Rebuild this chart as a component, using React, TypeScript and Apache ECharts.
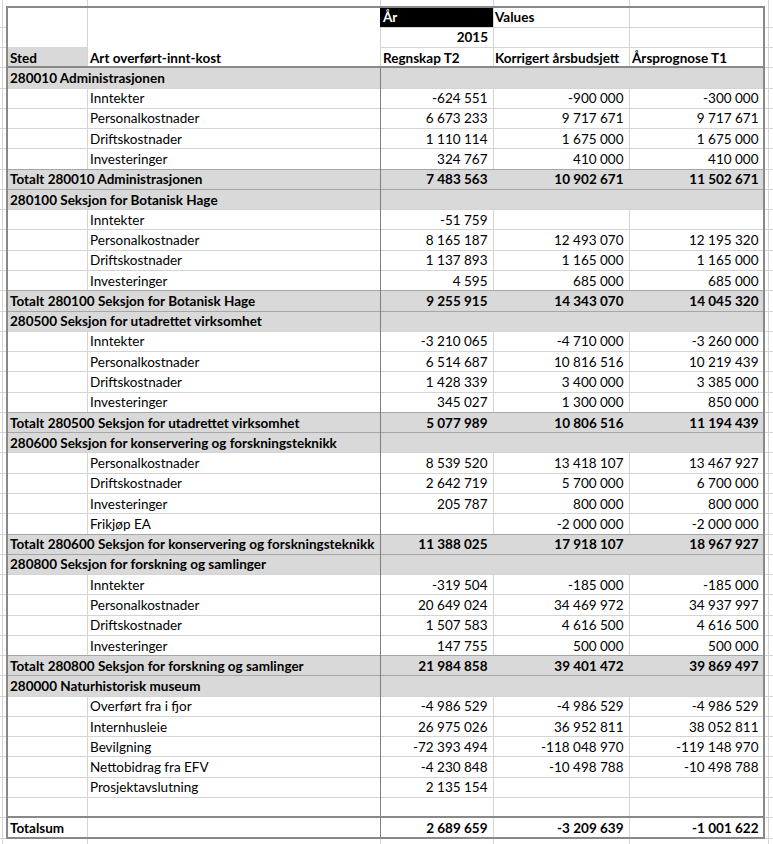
import React, { useEffect, useRef } from "react";
import * as echarts from "echarts";

const yearHeader = "År";
const valuesHeader = "Values";
const yearValue = "2015";
const fieldHeaders = ["Sted", "Art overført-innt-kost"];
const measureHeaders = ["Regnskap T2", "Korrigert årsbudsjett", "Årsprognose T1"];

const rowKinds = [
  "group", "item", "item", "item", "item", "total",
  "group", "item", "item", "item", "item", "total",
  "group", "item", "item", "item", "item", "total",
  "group", "item", "item", "item", "item", "total",
  "group", "item", "item", "item", "item", "total",
  "group", "item", "item", "item", "item", "item",
  "blank", "grand",
];

const rowLabels = [
  "280010 Administrasjonen", "Inntekter", "Personalkostnader", "Driftskostnader", "Investeringer", "Totalt 280010 Administrasjonen",
  "280100 Seksjon for Botanisk Hage", "Inntekter", "Personalkostnader", "Driftskostnader", "Investeringer", "Totalt 280100 Seksjon for Botanisk Hage",
  "280500 Seksjon for utadrettet virksomhet", "Inntekter", "Personalkostnader", "Driftskostnader", "Investeringer", "Totalt 280500 Seksjon for utadrettet virksomhet",
  "280600 Seksjon for konservering og forskningsteknikk", "Personalkostnader", "Driftskostnader", "Investeringer", "Frikjøp EA", "Totalt 280600 Seksjon for konservering og forskningsteknikk",
  "280800 Seksjon for forskning og samlinger", "Inntekter", "Personalkostnader", "Driftskostnader", "Investeringer", "Totalt 280800 Seksjon for forskning og samlinger",
  "280000 Naturhistorisk museum", "Overført fra i fjor", "Internhusleie", "Bevilgning", "Nettobidrag fra EFV", "Prosjektavslutning",
  "", "Totalsum",
];

const regnskapT2 = [
  null, -624551, 6673233, 1110114, 324767, 7483563,
  null, -51759, 8165187, 1137893, 4595, 9255915,
  null, -3210065, 6514687, 1428339, 345027, 5077989,
  null, 8539520, 2642719, 205787, null, 11388025,
  null, -319504, 20649024, 1507583, 147755, 21984858,
  null, -4986529, 26975026, -72393494, -4230848, 2135154,
  null, 2689659,
];

const korrigertBudsjett = [
  null, -900000, 9717671, 1675000, 410000, 10902671,
  null, null, 12493070, 1165000, 685000, 14343070,
  null, -4710000, 10816516, 3400000, 1300000, 10806516,
  null, 13418107, 5700000, 800000, -2000000, 17918107,
  null, -185000, 34469972, 4616500, 500000, 39401472,
  null, -4986529, 36952811, -118048970, -10498788, null,
  null, -3209639,
];

const arsprognoseT1 = [
  null, -300000, 9717671, 1675000, 410000, 11502671,
  null, null, 12195320, 1165000, 685000, 14045320,
  null, -3260000, 10219439, 3385000, 850000, 11194439,
  null, 13467927, 6700000, 800000, -2000000, 18967927,
  null, -185000, 34937997, 4616500, 500000, 39869497,
  null, -4986529, 38052811, -119148970, -10498788, null,
  null, -1001622,
];

const HEADER_ROWS = 3;
const TOTAL_ROWS = HEADER_ROWS + rowKinds.length;
const COL_EDGES = [7, 87, 380, 493, 629, 764];
const OUTER_GRID_X = [2, 768];
const W = 773;
const H = 844;
const FONT = "Lato, 'Open Sans', sans-serif";
const FONT_SIZE = 13.5;
const GRID_COLOR = "#d4d4d4";
const FILL_GRAY = "#d9d9d9";
const BORDER = "#898989";
const TOTAL_LINE = "#a6a6a6";

function fmt(v: number | null): string {
  if (v === null || v === undefined) return "";
  const s = Math.abs(v).toString().replace(/\B(?=(\d{3})+(?!\d))/g, " ");
  return (v < 0 ? "-" : "") + s;
}

export default function App() {
  const ref = useRef<HTMLDivElement>(null);

  useEffect(() => {
    document.body.style.margin = "0";
    document.body.style.background = "#fff";
    if (!ref.current) return;
    const chart = echarts.init(ref.current, undefined, { renderer: "svg" });

    const renderItem = (params: any, api: any) => {
      const r = api.value(1) as number;
      const yTop = api.coord([0, r])[1];
      const yBot = api.coord([0, r + 1])[1];
      const px = (v: number) => api.coord([v, r])[0];
      const t = Math.round(yTop);
      const b = Math.round(yBot);
      const yMid = (yTop + yBot) / 2 + 0.5;
      const kids: any[] = [];
      const line = (x1: number, y1: number, x2: number, y2: number, color: string, w: number, z2: number) =>
        kids.push({ type: "line", shape: { x1, y1, x2, y2 }, style: { stroke: color, lineWidth: w }, z2 });
      const rect = (x1: number, y1: number, x2: number, y2: number, fill: string, z2: number) =>
        kids.push({ type: "rect", shape: { x: x1, y: y1, width: x2 - x1, height: y2 - y1 }, style: { fill }, z2 });
      const text = (s: string, x: number, align: string, bold: boolean, color = "#000") =>
        kids.push({
          type: "text",
          x,
          y: yMid,
          style: {
            text: s,
            fill: color,
            fontFamily: FONT,
            fontSize: FONT_SIZE,
            fontWeight: bold ? "bold" : "normal",
            align,
            verticalAlign: "middle",
          },
          z2: 10,
        });

      const left = px(COL_EDGES[0]);
      const right = px(COL_EDGES[5]);

      // gridlines (vertical)
      const yA = r === 0 ? 0 : t;
      const yB = r === TOTAL_ROWS - 1 ? H : b;
      [OUTER_GRID_X[0], COL_EDGES[1], COL_EDGES[2], COL_EDGES[3], COL_EDGES[4], OUTER_GRID_X[1]].forEach((x) => {
        line(Math.round(px(x)) + 0.5, yA, Math.round(px(x)) + 0.5, yB, GRID_COLOR, 1, 1);
      });
      // gridlines (horizontal, bottom of row)
      if (r < 2) {
        line(0, b + 0.5, left, b + 0.5, GRID_COLOR, 1, 1);
        line(px(COL_EDGES[2]), b + 0.5, px(W), b + 0.5, GRID_COLOR, 1, 1);
      } else {
        line(0, b + 0.5, px(W), b + 0.5, GRID_COLOR, 1, 1);
      }

      if (r < HEADER_ROWS) {
        if (r === 0) {
          rect(px(COL_EDGES[2]), t, px(COL_EDGES[3]), b, "#000", 2);
          text(yearHeader, px(COL_EDGES[2]) + 3, "left", true, "#fff");
          text(valuesHeader, px(COL_EDGES[3]) + 2, "left", true);
          const tableBottom = Math.round(api.coord([0, TOTAL_ROWS])[1]);
          kids.push({
            type: "rect",
            shape: { x: left, y: t, width: right - left, height: tableBottom - t },
            style: { fill: "none", stroke: BORDER, lineWidth: 2 },
            z2: 5,
          });
        } else if (r === 1) {
          text(yearValue, px(COL_EDGES[3]) - 5, "right", true);
        } else {
          rect(left, t, px(COL_EDGES[1]), b, FILL_GRAY, 2);
          text(fieldHeaders[0], left + 3, "left", true);
          text(fieldHeaders[1], px(COL_EDGES[1]) + 3, "left", true);
          text(measureHeaders[0], px(COL_EDGES[2]) + 3, "left", true);
          text(measureHeaders[1], px(COL_EDGES[3]) + 2, "left", true);
          text(measureHeaders[2], px(COL_EDGES[4]) + 3, "left", true);
          line(left, b, right, b, BORDER, 2, 5);
        }
        return { type: "group", children: kids };
      }

      const i = r - HEADER_ROWS;
      const kind = rowKinds[i];
      const label = rowLabels[i];
      const bold = kind !== "item";
      if (kind === "group" || kind === "total") {
        rect(left, t, right, b, FILL_GRAY, 2);
      }
      if (kind === "total") {
        line(left, t + 0.5, right, t + 0.5, TOTAL_LINE, 1, 4);
        line(left, b + 0.5, right, b + 0.5, TOTAL_LINE, 1, 4);
      }
      if (kind === "grand") {
        line(left, t, right, t, BORDER, 2, 5);
      }
      line(Math.round(px(COL_EDGES[2])) + 0.5, t, Math.round(px(COL_EDGES[2])) + 0.5, b, "#7f7f7f", 1, 4);

      if (kind === "item") {
        text(label, px(COL_EDGES[1]) + 3, "left", false);
      } else if (label) {
        text(label, left + 3, "left", true);
      }
      const vals = [regnskapT2[i], korrigertBudsjett[i], arsprognoseT1[i]];
      vals.forEach((v, k) => {
        const s = fmt(v);
        if (s) text(s, px(COL_EDGES[k + 3]) - 5.5, "right", bold);
      });
      return { type: "group", children: kids };
    };

    const data = Array.from({ length: TOTAL_ROWS }, (_, r) => [0, r]);

    chart.setOption({
      animation: false,
      backgroundColor: "#fff",
      grid: { left: 0, right: 0, top: 6.5, bottom: H - 6.5 - 41 * 20.27 },
      xAxis: { type: "value", min: 0, max: W, show: false },
      yAxis: { type: "value", min: 0, max: TOTAL_ROWS, inverse: true, show: false },
      series: [
        {
          type: "custom",
          coordinateSystem: "cartesian2d",
          renderItem,
          data,
          encode: { x: 0, y: 1 },
          clip: false,
          silent: true,
        },
      ],
    });

    return () => {
      chart.dispose();
    };
  }, []);

  return <div ref={ref} style={{ width: W, height: H }} />;
}
